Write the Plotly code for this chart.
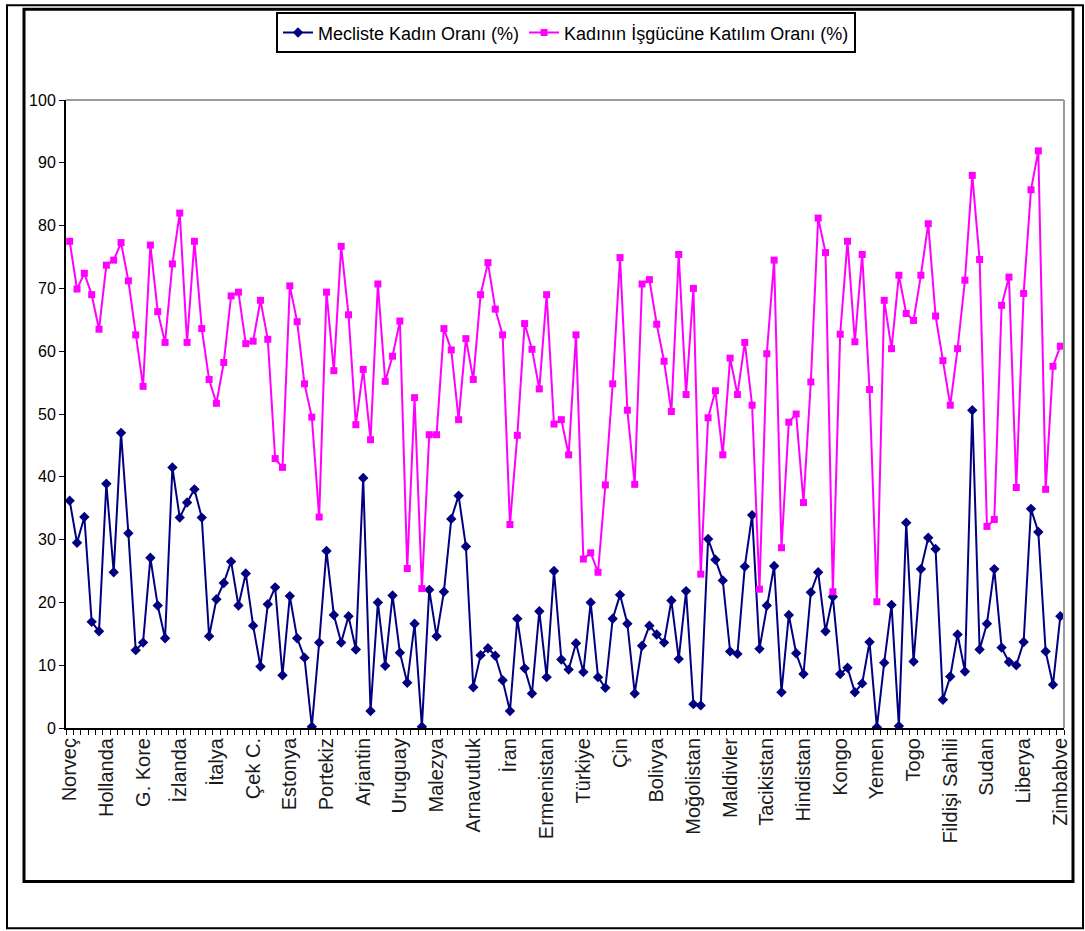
import plotly.graph_objects as go

W, H = 1085, 931
# plot area in pixels (left, top, right, bottom)
PL, PT, PR, PB = 66, 98, 1064, 728

NAVY = "#000080"
PINK = "#FF00FF"

tick_labels = [
    "Norveç", "Hollanda", "G. Kore", "İzlanda", "İtalya", "Çek C.", "Estonya",
    "Portekiz", "Arjantin", "Uruguay", "Malezya", "Arnavutluk", "İran",
    "Ermenistan", "Türkiye", "Çin", "Bolivya", "Moğolistan", "Maldivler",
    "Tacikistan", "Hindistan", "Kongo", "Yemen", "Togo", "Fildişi Sahili",
    "Sudan", "Liberya", "Zimbabve",
]

meclis = [
    36.2, 29.5, 33.6, 16.9, 15.4, 38.9, 24.8, 47.0, 31.0, 12.4,
    13.6, 27.1, 19.5, 14.3, 41.5, 33.5, 35.9, 38.0, 33.5, 14.6,
    20.5, 23.1, 26.5, 19.5, 24.6, 16.3, 9.8, 19.7, 22.4, 8.4,
    21.0, 14.3, 11.2, 0.2, 13.6, 28.2, 18.0, 13.6, 17.8, 12.5,
    39.8, 2.7, 20.0, 9.9, 21.1, 12.0, 7.2, 16.6, 0.2, 22.0,
    14.6, 21.7, 33.3, 37.0, 28.9, 6.5, 11.6, 12.7, 11.5, 7.6,
    2.7, 17.4, 9.5, 5.5, 18.6, 8.1, 25.0, 10.9, 9.3, 13.5,
    8.9, 20.0, 8.1, 6.4, 17.4, 21.2, 16.6, 5.5, 13.1, 16.3,
    14.9, 13.6, 20.3, 11.0, 21.8, 3.8, 3.6, 30.1, 26.8, 23.5,
    12.2, 11.8, 25.7, 33.9, 12.6, 19.5, 25.8, 5.7, 18.0, 11.9,
    8.6, 21.6, 24.8, 15.4, 20.9, 8.6, 9.6, 5.7, 7.1, 13.7,
    0.1, 10.4, 19.6, 0.3, 32.7, 10.6, 25.3, 30.3, 28.5, 4.5,
    8.2, 14.9, 9.0, 50.6, 12.5, 16.6, 25.3, 12.8, 10.5, 10.0,
    13.7, 34.9, 31.2, 12.2, 6.9, 17.8,
]

isgucu = [
    77.5, 69.9, 72.4, 69.0, 63.5, 73.7, 74.5, 77.3, 71.2, 62.6,
    54.4, 76.9, 66.3, 61.4, 73.9, 82.0, 61.4, 77.5, 63.6, 55.5,
    51.7, 58.2, 68.8, 69.4, 61.2, 61.6, 68.1, 61.9, 42.9, 41.5,
    70.4, 64.7, 54.8, 49.5, 33.6, 69.4, 56.9, 76.7, 65.8, 48.3,
    57.1, 45.9, 70.7, 55.2, 59.2, 64.8, 25.4, 52.6, 22.2, 46.7,
    46.7, 63.6, 60.2, 49.1, 62.0, 55.5, 69.0, 74.1, 66.7, 62.6,
    32.4, 46.6, 64.4, 60.3, 54.0, 69.0, 48.4, 49.1, 43.5, 62.6,
    26.9, 27.9, 24.8, 38.7, 54.8, 74.9, 50.6, 38.8, 70.7, 71.4,
    64.3, 58.4, 50.4, 75.4, 53.1, 70.0, 24.5, 49.4, 53.7, 43.5,
    58.9, 53.1, 61.4, 51.4, 22.1, 59.6, 74.5, 28.7, 48.7, 50.0,
    35.9, 55.1, 81.2, 75.7, 21.7, 62.7, 77.5, 61.5, 75.4, 53.9,
    20.1, 68.1, 60.4, 72.1, 66.0, 64.9, 72.1, 80.3, 65.6, 58.5,
    51.4, 60.4, 71.3, 88.0, 74.6, 32.1, 33.2, 67.3, 71.8, 38.3,
    69.2, 85.7, 91.9, 38.0, 57.6, 60.8,
]

x = list(range(len(meclis)))


def px_x(X):
    return (X - PL) / (PR - PL)


def px_y(Y):
    return (PB - Y) / (PB - PT)


def box(x0, y0, x1, y1, width, color="black"):
    return dict(type="rect", xref="paper", yref="paper",
                x0=px_x(x0), x1=px_x(x1), y0=px_y(y1), y1=px_y(y0),
                line=dict(color=color, width=width), fillcolor="rgba(0,0,0,0)",
                layer="above")


fig = go.Figure()
fig.add_trace(go.Scatter(
    x=x, y=meclis, name="Mecliste Kadın Oranı (%)",
    mode="lines+markers",
    line=dict(color=NAVY, width=2),
    marker=dict(symbol="diamond", size=8, color=NAVY),
))
fig.add_trace(go.Scatter(
    x=x, y=isgucu, name="Kadının İşgücüne Katılım Oranı (%)",
    mode="lines+markers",
    line=dict(color=PINK, width=2),
    marker=dict(symbol="square", size=7, color=PINK),
))

shapes = [
    box(7, 3, 1083, 929, 2),
    box(24, 7, 1073, 882, 3),
    # grey plot-area border (top and right)
    dict(type="line", xref="paper", yref="paper", x0=0, x1=1, y0=1, y1=1,
         line=dict(color="#9a9a9a", width=2)),
    dict(type="line", xref="paper", yref="paper", x0=1, x1=1, y0=0, y1=1,
         line=dict(color="#9a9a9a", width=2)),
]

fig.update_layout(
    width=W, height=H,
    margin=dict(l=PL, r=W - PR, t=PT, b=H - PB, pad=0),
    paper_bgcolor="white",
    plot_bgcolor="white",
    font=dict(family="Liberation Sans, Arial, sans-serif", color="black", size=15),
    showlegend=True,
    legend=dict(
        orientation="h",
        x=px_x(276), y=px_y(10), xanchor="left", yanchor="top",
        bordercolor="black", borderwidth=2, bgcolor="white",
        font=dict(size=18, color="black"),
        itemwidth=30,
    ),
    xaxis=dict(
        range=[-0.5, len(x) - 0.5],
        tickmode="array",
        tickvals=x[::5],
        ticktext=tick_labels,
        tickangle=-90,
        ticks="",
        tickfont=dict(size=20, color="#1a1a1a"),
        showgrid=False, zeroline=False,
        showline=True, linecolor="black", linewidth=2,
        minor=dict(tickmode="linear", tick0=-0.5, dtick=1, ticks="outside",
                   ticklen=5, tickcolor="black", tickwidth=1),
    ),
    yaxis=dict(
        range=[0, 100], dtick=10,
        ticks="outside", ticklen=5, tickcolor="black",
        tickfont=dict(size=16, color="black"),
        showgrid=False, zeroline=False,
        showline=True, linecolor="black", linewidth=2,
    ),
    shapes=shapes,
)

fig.write_html("out.html", config={"displayModeBar": False},
               post_script="document.body.style.margin='0';")
